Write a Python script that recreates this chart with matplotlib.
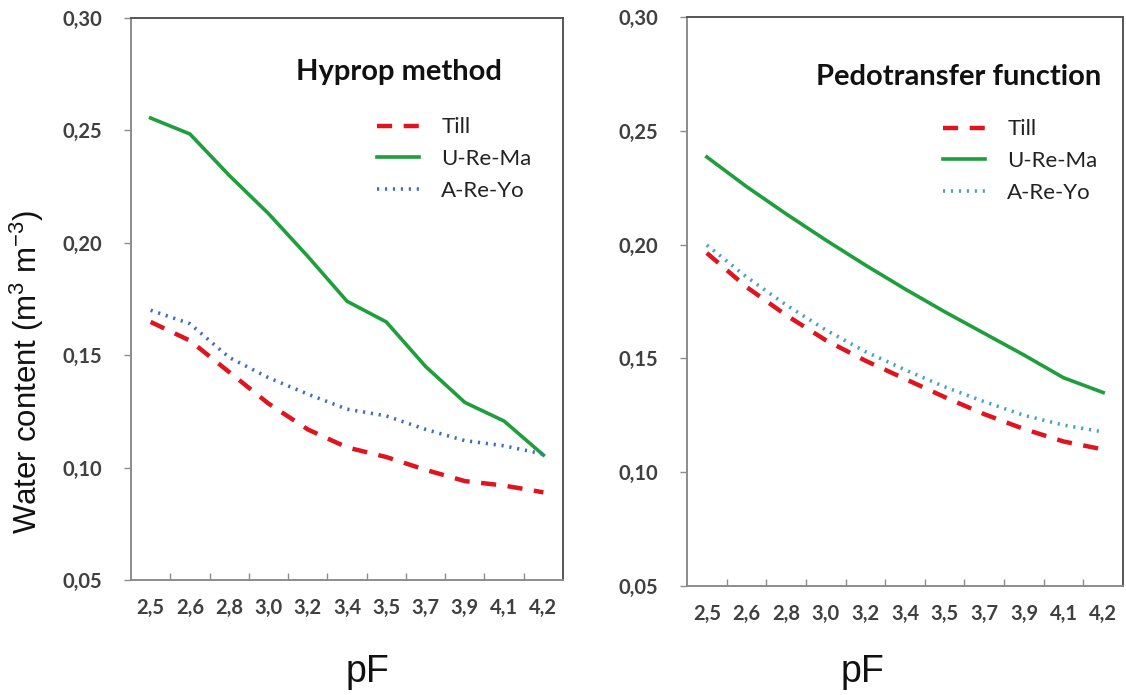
import numpy as np
import matplotlib.pyplot as plt

# pF categories (same on both panels)
pf_labels = ["2,5", "2,6", "2,8", "3,0", "3,2", "3,4", "3,5", "3,7", "3,9", "4,1", "4,2"]

# Hyprop method (left panel)
hyp_till = [0.1648, 0.1565, 0.1425, 0.1285, 0.1170, 0.1090, 0.1047, 0.0990, 0.0940, 0.0920, 0.0890]
hyp_urema = [0.2555, 0.2484, 0.2300, 0.2130, 0.1940, 0.1740, 0.1648, 0.1450, 0.1290, 0.1207, 0.1056]
hyp_areyo = [0.1700, 0.1640, 0.1490, 0.1400, 0.1327, 0.1260, 0.1230, 0.1170, 0.1120, 0.1097, 0.1060]

# Pedotransfer function (right panel)
ptf_till = [0.1963, 0.1814, 0.1690, 0.1580, 0.1490, 0.1410, 0.1330, 0.1255, 0.1190, 0.1135, 0.1100]
ptf_urema = [0.2385, 0.2255, 0.2135, 0.2020, 0.1910, 0.1805, 0.1705, 0.1610, 0.1515, 0.1415, 0.1350]
ptf_areyo = [0.1998, 0.1858, 0.1735, 0.1625, 0.1530, 0.1450, 0.1375, 0.1310, 0.1250, 0.1207, 0.1177]

yticks = [0.05, 0.10, 0.15, 0.20, 0.25, 0.30]

RED = "#e0141e"
GREEN = "#1e9e3c"
FONT = "Lato"

plt.rcParams["mathtext.default"] = "regular"

fig = plt.figure(figsize=(11.26, 6.95), dpi=100)
ax1 = fig.add_axes([131/1126, 1 - 580/695, 432/1126, 562/695])
ax2 = fig.add_axes([687/1126, 1 - 586/695, 436/1126, 569/695])


def style_axis(ax, till, urema, areyo, blue, title, title_xy, leg_anchor):
    x = np.arange(len(pf_labels))
    ax.plot(x, till, color=RED, lw=3.2, ls=(0, (3.4, 2.6)), label="Till")
    ax.plot(x, urema, color=GREEN, lw=2.6, label="U-Re-Ma")
    ax.plot(x, areyo, color=blue, lw=2.6, ls=(0, (0.6, 1.6)), label="A-Re-Yo")

    ax.set_xlim(-0.5, len(pf_labels) - 0.5)
    ax.set_ylim(0.05, 0.30)
    ax.set_yticks(yticks)
    ax.set_yticklabels([f"{v:.2f}".replace(".", ",") for v in yticks],
                       fontfamily=FONT, fontweight="bold", fontsize=14.5, color="#404040")
    ax.set_xticks(x)
    ax.set_xticklabels(pf_labels, fontfamily=FONT, fontweight="bold",
                       fontsize=14.5, color="#404040")
    ax.set_xticks(x[:-1] + 0.5, minor=True)
    ax.tick_params(axis="x", which="major", length=0, pad=13)
    ax.tick_params(axis="x", which="minor", direction="in", length=5,
                   color="#8c8c8c", width=1)
    ax.tick_params(axis="y", which="major", direction="out", length=5,
                   color="#8c8c8c", width=1, pad=16)

    for side in ["left", "bottom"]:
        ax.spines[side].set_color("#8c8c8c")
        ax.spines[side].set_linewidth(1.4)
    for side in ["top", "right"]:
        ax.spines[side].set_color("#555555")
        ax.spines[side].set_linewidth(1.4)

    fig.text(title_xy[0] / 1126, 1 - title_xy[1] / 695, title, fontfamily=FONT,
             fontweight="bold", fontsize=21, ha="left", va="center", color="#111111")

    leg = ax.legend(loc="upper left", bbox_to_anchor=leg_anchor, frameon=False,
                    prop={"family": FONT, "size": 16}, handlelength=1.9,
                    handletextpad=1.0, labelspacing=0.52, borderaxespad=0, borderpad=0)
    for t in leg.get_texts():
        t.set_color("#222222")


style_axis(ax1, hyp_till, hyp_urema, hyp_areyo, "#3f6fc0", "Hyprop method",
           (296, 72), (0.569, 0.823))
style_axis(ax2, ptf_till, ptf_urema, ptf_areyo, "#4aa3c4", "Pedotransfer function",
           (816, 77), (0.587, 0.82))

fig.text(27 / 1126, 1 - 372 / 695, r"Water content (m$^3$ m$^{-3}$)",
         fontfamily="Liberation Sans", fontsize=22.5, rotation=90,
         ha="center", va="center", color="#111111")
fig.text(368 / 1126, 1 - 672 / 695, "pF", fontfamily="Liberation Sans",
         fontsize=27, ha="center", va="center", color="#111111")
fig.text(863 / 1126, 1 - 672 / 695, "pF", fontfamily="Liberation Sans",
         fontsize=27, ha="center", va="center", color="#111111")

fig.savefig("out.png", dpi=100)
